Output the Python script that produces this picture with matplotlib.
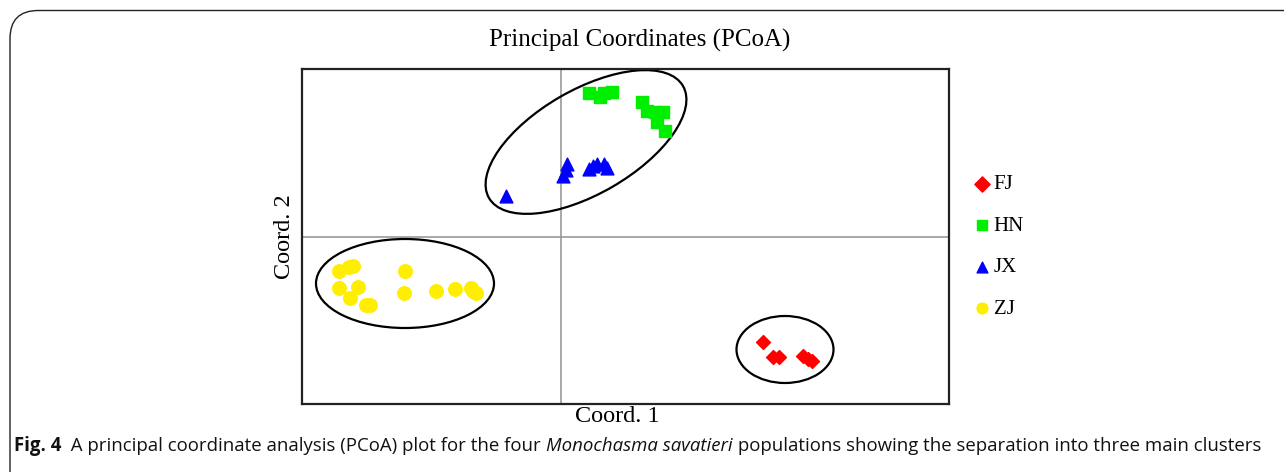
import matplotlib
matplotlib.use("Agg")
import matplotlib.pyplot as plt
from matplotlib.patches import Ellipse, FancyBboxPatch

# PCoA scores per population (Coord. 1, Coord. 2)
FJ_X = [0.202, 0.212, 0.218, 0.242, 0.247, 0.251]
FJ_Y = [-0.105, -0.120, -0.120, -0.119, -0.122, -0.124]

HN_X = [0.028, 0.039, 0.043, 0.051, 0.081, 0.086, 0.094, 0.102, 0.096, 0.104]
HN_Y = [0.144, 0.140, 0.144, 0.145, 0.135, 0.126, 0.125, 0.125, 0.115, 0.106]

JX_X = [-0.055, 0.002, 0.006, 0.005, 0.028, 0.036, 0.043, 0.046, 0.032]
JX_Y = [0.041, 0.061, 0.073, 0.067, 0.068, 0.073, 0.073, 0.069, 0.071]

ZJ_X = [-0.222, -0.212, -0.208, -0.156, -0.222, -0.203, -0.211, -0.195,
        -0.191, -0.157, -0.125, -0.106, -0.090, -0.085, -0.088]
ZJ_Y = [-0.034, -0.030, -0.029, -0.034, -0.051, -0.050, -0.061, -0.068,
        -0.068, -0.056, -0.054, -0.052, -0.051, -0.056, -0.054]

# cluster outlines: (centre x, centre y, width, height, angle)
CLUSTERS = [
    (0.025, 0.095, 0.224, 0.104, 30),
    (-0.156, -0.0465, 0.178, 0.089, 0),
    (0.224, -0.1125, 0.097, 0.067, 0),
]

W, H = 1284, 472
fig = plt.figure(figsize=(W / 100, H / 100), dpi=100)

# rounded panel frame, open to the right and bottom
frame = FancyBboxPatch((10 / W, -0.2), 1.2, (H - 10.5) / H + 0.2,
                       boxstyle="round,pad=0,rounding_size=0.022",
                       transform=fig.transFigure, facecolor="none",
                       edgecolor="#222222", linewidth=1.0, mutation_aspect=W / H)
fig.patches.append(frame)

ax = fig.add_axes([302 / W, (H - 404) / H, 647 / W, 335 / H])
ax.set_xlim(-0.259, 0.388)
ax.set_ylim(-0.167, 0.168)
ax.set_xticks([])
ax.set_yticks([])
for sp in ax.spines.values():
    sp.set_linewidth(1.6)
    sp.set_color("#222222")

ax.axvline(0, color="#9a9a9a", linewidth=1.2, zorder=0)
ax.axhline(0, color="#9a9a9a", linewidth=1.2, zorder=0)

for cx, cy, w, h, ang in CLUSTERS:
    ax.add_patch(Ellipse((cx, cy), w, h, angle=ang, facecolor="none",
                         edgecolor="black", linewidth=1.6, zorder=2))

ax.scatter(FJ_X, FJ_Y, marker="D", s=50, color="#ff0000", label="FJ", zorder=3)
ax.scatter(HN_X, HN_Y, marker="s", s=80, color="#00ee00", label="HN", zorder=3)
ax.scatter(JX_X, JX_Y, marker="^", s=85, color="#0000ff", label="JX", zorder=3)
ax.scatter(ZJ_X, ZJ_Y, marker="o", s=95, color="#ffee00", label="ZJ", zorder=3)

serif = "Liberation Serif"
leg = ax.legend(loc="center left", bbox_to_anchor=(1.040, 0.469), frameon=False,
                prop={"family": serif, "size": 15}, handlelength=0.7,
                handletextpad=0.2, labelspacing=1.05, borderpad=0,
                borderaxespad=0, scatterpoints=1)
for hnd in leg.legend_handles:
    hnd.set_sizes([60])

fig.text(640 / W, 1 - 40 / H, "Principal Coordinates (PCoA)", ha="center",
         va="center", family=serif, fontsize=18)
fig.text(617 / W, 1 - 417 / H, "Coord. 1", ha="center", va="center",
         family=serif, fontsize=17.5)
fig.text(285 / W, 1 - 237 / H, "Coord. 2", ha="center", va="center",
         rotation=90, family=serif, fontsize=17.5)

# caption, laid out piece by piece
pieces = [
    ("Fig. 4", "bold", "normal"),
    ("  A principal coordinate analysis (PCoA) plot for the four ", "normal", "normal"),
    ("Monochasma savatieri", "normal", "italic"),
    (" populations showing the separation into three main clusters", "normal", "normal"),
]
fig.canvas.draw()
renderer = fig.canvas.get_renderer()
x = 14
for txt, weight, style in pieces:
    t = fig.text(x / W, 1 - 446 / H, txt, ha="left", va="center",
                 family="Open Sans", fontsize=13.4, fontweight=weight,
                 fontstyle=style, color="#111111")
    x += t.get_window_extent(renderer).width

fig.savefig("out.png", dpi=100)
